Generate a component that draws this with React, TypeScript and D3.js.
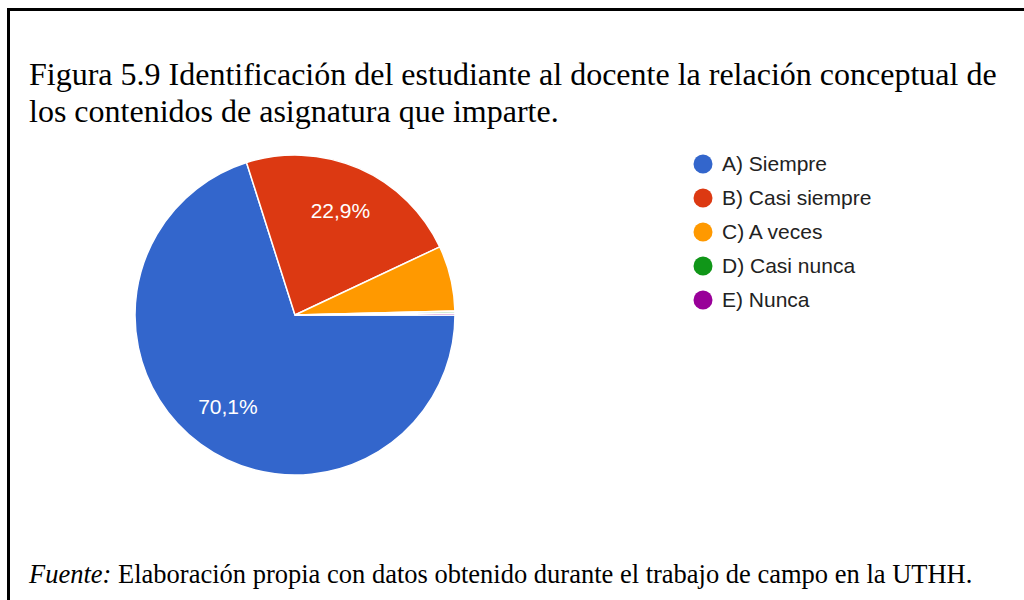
import * as React from "react";
import * as d3 from "d3";

const categories = ["A) Siempre", "B) Casi siempre", "C) A veces", "D) Casi nunca", "E) Nunca"];
const values = [70.1, 22.9, 6.6, 0.2, 0.2];
const colors = ["#3366cc", "#dc3912", "#ff9900", "#109618", "#990099"];
const titleLines = [
  "Figura 5.9 Identificación del estudiante al docente la relación conceptual de",
  "los contenidos de asignatura que imparte.",
];

function drawChart(svgRef) {
  const svg = d3.select(svgRef.current);
  svg.selectAll("*").remove();

  const cx = 295;
  const cy = 315;
  const radius = 160;

  // frame (right and bottom edges run off the page)
  svg.append("path")
    .attr("d", "M8.5,1040 L8.5,9.5 L1040,9.5")
    .attr("fill", "none")
    .attr("stroke", "#000")
    .attr("stroke-width", 3);

  svg.selectAll(".title")
    .data(titleLines)
    .enter()
    .append("text")
    .attr("class", "title")
    .attr("x", 29)
    .attr("y", (d, i) => 85 + i * 37)
    .attr("font-family", "'Liberation Serif', 'Times New Roman', serif")
    .attr("font-size", 32)
    .attr("fill", "#000")
    .text(d => d);

  const pie = d3.pie().sort(null).startAngle(Math.PI / 2).endAngle(Math.PI / 2 + 2 * Math.PI);
  const arcs = pie(values);
  const arc = d3.arc().innerRadius(0).outerRadius(radius);
  const labelArc = d3.arc().innerRadius(radius * 0.71).outerRadius(radius * 0.71);

  const g = svg.append("g").attr("transform", `translate(${cx},${cy})`);

  g.selectAll(".slice")
    .data(arcs)
    .enter()
    .append("path")
    .attr("class", "slice")
    .attr("d", arc)
    .attr("fill", (d, i) => colors[i])
    .attr("stroke", "#fff")
    .attr("stroke-width", 1.5);

  g.selectAll(".label")
    .data(arcs.filter(d => d.data > 10))
    .enter()
    .append("text")
    .attr("class", "label")
    .attr("transform", d => `translate(${labelArc.centroid(d)})`)
    .attr("text-anchor", "middle")
    .attr("dy", "0.35em")
    .attr("font-family", "Arial, 'Liberation Sans', sans-serif")
    .attr("font-size", 21)
    .attr("fill", "#fff")
    .text(d => d.data.toFixed(1).replace(".", ",") + "%");

  const legend = svg.append("g").attr("transform", "translate(703,164)");
  const item = legend.selectAll(".item")
    .data(categories)
    .enter()
    .append("g")
    .attr("class", "item")
    .attr("transform", (d, i) => `translate(0,${i * 34})`);
  item.append("circle")
    .attr("r", 9.5)
    .attr("fill", (d, i) => colors[i]);
  item.append("text")
    .attr("x", 19)
    .attr("dy", "0.35em")
    .attr("font-family", "Arial, 'Liberation Sans', sans-serif")
    .attr("font-size", 21)
    .attr("fill", "#222")
    .text(d => d);

  const foot = svg.append("text")
    .attr("x", 29)
    .attr("y", 583)
    .attr("font-family", "'Liberation Serif', 'Times New Roman', serif")
    .attr("font-size", 26.5)
    .attr("fill", "#000");
  foot.append("tspan").attr("font-style", "italic").text("Fuente:");
  foot.append("tspan").text(" Elaboración propia con datos obtenido durante el trabajo de campo en la UTHH.");
}

export default function App() {
  const svgRef = React.useRef(null);

  React.useEffect(() => {
    drawChart(svgRef);
  }, []);

  return (
    <svg
      ref={svgRef}
      width={1024}
      height={600}
      style={{ position: "fixed", left: 0, top: 0, background: "#fff" }}
    />
  );
}
